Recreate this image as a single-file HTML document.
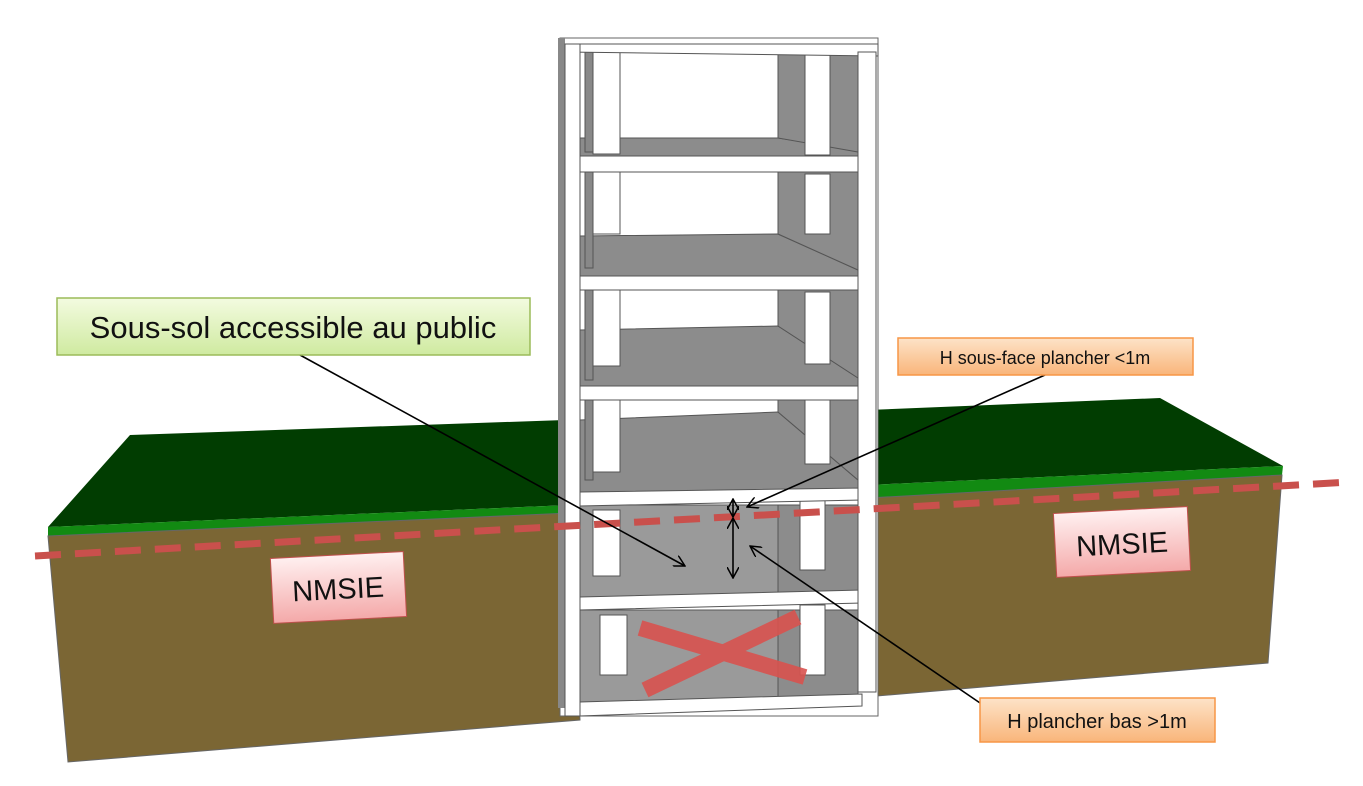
<!DOCTYPE html>
<html><head><meta charset="utf-8"><style>
html,body{margin:0;padding:0;background:#fff;width:1363px;height:786px;overflow:hidden}
</style></head><body>
<svg width="1363" height="786" viewBox="0 0 1363 786" xmlns="http://www.w3.org/2000/svg" font-family="Liberation Sans, sans-serif">
<defs>
<linearGradient id="gg" x1="0" y1="0" x2="0" y2="1"><stop offset="0" stop-color="#f3fbe0"/><stop offset="1" stop-color="#cfeaa0"/></linearGradient>
<linearGradient id="og" x1="0" y1="0" x2="0" y2="1"><stop offset="0" stop-color="#fde3c8"/><stop offset="1" stop-color="#f9b57a"/></linearGradient>
<linearGradient id="pg" x1="0" y1="0" x2="0" y2="1"><stop offset="0" stop-color="#fff0f0"/><stop offset="1" stop-color="#f4a9a9"/></linearGradient>
<marker id="ar" viewBox="0 0 12 12" refX="11" refY="6" markerWidth="12" markerHeight="12" markerUnits="userSpaceOnUse" orient="auto"><path d="M0,0 L11,6 L0,12" fill="none" stroke="#000" stroke-width="1.5"/></marker>
<marker id="ar2" viewBox="0 0 12 12" refX="11" refY="6" markerWidth="12" markerHeight="12" markerUnits="userSpaceOnUse" orient="auto-start-reverse"><path d="M0,0 L11,6 L0,12" fill="none" stroke="#000" stroke-width="1.5"/></marker>
</defs>
<polygon points="130,435 565,420 570,505 48,527" fill="#013d01"/>
<polygon points="48,527 570,505 570,513 48,536" fill="#128a12"/>
<polygon points="48,536 570,513 580,720 68,762" fill="#7b6634" stroke="#666" stroke-width="1"/>
<polygon points="868,410 1160,398 1283,466 868,485" fill="#013d01"/>
<polygon points="868,485 1283,466 1282,475 868,498" fill="#128a12"/>
<polygon points="868,498 1282,475 1268,663 865,697" fill="#7b6634" stroke="#666" stroke-width="1"/>
<rect x="560" y="38" width="318" height="678" fill="#fff" stroke="#666"/>
<rect x="558" y="38" width="7" height="670" fill="#888"/>
<g stroke="#555" stroke-width="1">
<rect x="580" y="52" width="278" height="104" fill="#fff"/>
<polygon points="580,138 778,138 858,150 858,156 580,156" fill="#8c8c8c"/>
<polygon points="778,52 858,52 858,152 778,138" fill="#8c8c8c"/>
<rect x="805" y="55" width="25" height="100" fill="#fff"/>
<rect x="585" y="52" width="8" height="100" fill="#888"/>
<rect x="593" y="52" width="27" height="102" fill="#fff"/>
<rect x="580" y="172" width="278" height="104" fill="#fff"/>
<polygon points="580,236 778,234 858,270 858,276 580,276" fill="#8c8c8c"/>
<polygon points="778,172 858,172 858,270 778,234" fill="#8c8c8c"/>
<rect x="805" y="174" width="25" height="60" fill="#fff"/>
<rect x="585" y="172" width="8" height="96" fill="#888"/>
<rect x="593" y="172" width="27" height="62" fill="#fff"/>
<rect x="580" y="290" width="278" height="96" fill="#fff"/>
<polygon points="580,330 778,326 858,378 858,386 580,386" fill="#8c8c8c"/>
<polygon points="778,290 858,290 858,378 778,326" fill="#8c8c8c"/>
<rect x="805" y="292" width="25" height="72" fill="#fff"/>
<rect x="585" y="290" width="8" height="90" fill="#888"/>
<rect x="593" y="290" width="27" height="76" fill="#fff"/>
<rect x="580" y="400" width="278" height="92" fill="#fff"/>
<polygon points="580,420 778,412 858,480 858,492 580,492" fill="#8c8c8c"/>
<polygon points="778,400 858,400 858,480 778,412" fill="#8c8c8c"/>
<rect x="805" y="396" width="25" height="68" fill="#fff"/>
<rect x="585" y="400" width="8" height="80" fill="#888"/>
<rect x="593" y="400" width="27" height="72" fill="#fff"/>
<rect x="580" y="505" width="278" height="92" fill="#9a9a9a"/>
<rect x="778" y="505" width="80" height="90" fill="#8c8c8c"/>
<rect x="800" y="500" width="25" height="70" fill="#fff"/>
<rect x="593" y="510" width="27" height="66" fill="#fff"/>
<rect x="580" y="610" width="278" height="92" fill="#9a9a9a"/>
<rect x="778" y="610" width="80" height="90" fill="#8c8c8c"/>
<rect x="800" y="605" width="25" height="70" fill="#fff"/>
<rect x="600" y="615" width="27" height="60" fill="#fff"/>
<polygon points="565,44 878,44 878,56 565,52" fill="#fff"/>
<rect x="580" y="156" width="282" height="16" fill="#fff"/>
<rect x="580" y="276" width="282" height="14" fill="#fff"/>
<rect x="580" y="386" width="282" height="14" fill="#fff"/>
<polygon points="580,492 862,488 862,500 580,506" fill="#fff"/>
<polygon points="580,597 862,590 862,603 580,610" fill="#fff"/>
<polygon points="580,702 862,694 862,706 580,716" fill="#fff"/>
<rect x="565" y="44" width="15" height="672" fill="#fff"/>
<rect x="858" y="52" width="18" height="640" fill="#fff"/>
</g>
<g stroke="#d9534f" stroke-width="16" opacity="0.9"><line x1="640" y1="628" x2="805" y2="677"/><line x1="645" y1="690" x2="798" y2="617"/></g>
<line x1="35" y1="556" x2="1350" y2="482" stroke="#c9504c" stroke-width="7" stroke-dasharray="26 14"/>
<g stroke="#000" stroke-width="1.6" fill="none">
<line x1="300" y1="355" x2="685" y2="566" marker-end="url(#ar)"/>
<line x1="1045" y1="375" x2="747" y2="507" marker-end="url(#ar)"/>
<line x1="983" y1="705" x2="750" y2="546" marker-end="url(#ar)"/>
<line x1="733" y1="518" x2="733" y2="578" marker-start="url(#ar2)" marker-end="url(#ar2)"/>
<line x1="733" y1="499" x2="733" y2="517" marker-start="url(#ar2)" marker-end="url(#ar2)"/>
</g>
<rect x="57" y="298" width="473" height="57" fill="url(#gg)" stroke="#9bbb59" stroke-width="1.5"/>
<text x="293" y="338" font-size="31" text-anchor="middle" fill="#111">Sous-sol accessible au public</text>
<rect x="898" y="338" width="295" height="37" fill="url(#og)" stroke="#f79646" stroke-width="1.5"/>
<text x="1045" y="364" font-size="18" text-anchor="middle" fill="#111">H sous-face plancher &lt;1m</text>
<rect x="980" y="698" width="235" height="44" fill="url(#og)" stroke="#f79646" stroke-width="1.5"/>
<text x="1097" y="728" font-size="20" text-anchor="middle" fill="#111">H plancher bas &gt;1m</text>
<g transform="rotate(-3 338 588)"><rect x="272" y="555" width="133" height="65" fill="url(#pg)" stroke="#c0504d"/>
<text x="338" y="599" font-size="29" text-anchor="middle" fill="#111">NMSIE</text></g>
<g transform="rotate(-3 1122 542)"><rect x="1055" y="510" width="134" height="64" fill="url(#pg)" stroke="#c0504d"/>
<text x="1122" y="554" font-size="29" text-anchor="middle" fill="#111">NMSIE</text></g>
</svg>
</body></html>
